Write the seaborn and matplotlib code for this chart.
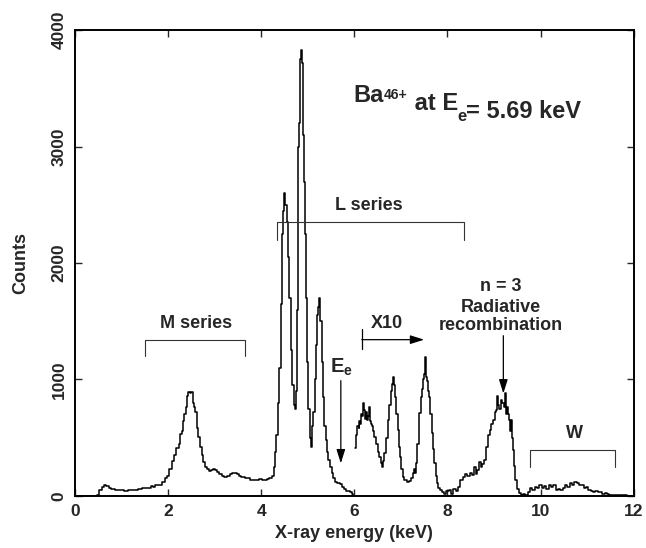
import numpy as np
import pandas as pd
import matplotlib
matplotlib.use('Agg')
import matplotlib.pyplot as plt
import seaborn as sns

# main spectrum (full scale)
energy_main = [0.0, 0.45, 0.5, 0.55, 0.6, 0.65, 0.7, 0.75, 0.8, 0.9, 1.0, 1.1, 1.2, 1.3, 1.4, 1.5,
               1.6, 1.65, 1.7, 1.75, 1.8, 1.85, 1.9, 1.95, 2.0, 2.05, 2.1, 2.15, 2.2, 2.25, 2.28, 2.3,
               2.33, 2.36, 2.39, 2.42, 2.45, 2.48, 2.51, 2.54, 2.57, 2.6, 2.63, 2.66, 2.7, 2.74, 2.78,
               2.82, 2.86, 2.9, 2.95, 3.0, 3.03, 3.07, 3.12, 3.18, 3.24, 3.3, 3.35, 3.4, 3.45, 3.5,
               3.55, 3.6, 3.7, 3.8, 3.9, 4.0, 4.05, 4.1, 4.15, 4.2, 4.25, 4.28, 4.31, 4.34, 4.37, 4.4,
               4.43, 4.46, 4.49, 4.51, 4.53, 4.56, 4.59, 4.62, 4.65, 4.68, 4.71, 4.73, 4.75, 4.77,
               4.79, 4.81, 4.83, 4.85, 4.87, 4.89, 4.91, 4.93, 4.95, 4.97, 5.0, 5.03, 5.06, 5.09,
               5.11, 5.13, 5.16, 5.19, 5.21, 5.24, 5.26, 5.28, 5.31, 5.34, 5.37, 5.4, 5.43, 5.46,
               5.5, 5.53, 5.56, 5.6, 5.64, 5.68, 5.72, 5.76, 5.8, 5.84, 5.88, 5.92, 5.96, 6.0]
counts_main = [0, 0, 10, 50, 80, 94, 85, 72, 62, 55, 48, 45, 47, 52, 58, 65,
               72, 85, 78, 90, 98, 95, 120, 150, 175, 230, 300, 350, 410, 450, 530, 555,
               640, 700, 760, 860, 890, 880, 890, 800, 760, 720, 580, 510, 420, 350, 290,
               250, 230, 215, 220, 235, 225, 205, 190, 175, 165, 175, 185, 195, 200, 190,
               175, 165, 150, 140, 135, 145, 135, 140, 145, 150, 175, 250, 380, 520, 800, 1100,
               1650, 2250, 2450, 2600, 2500, 2350, 2050, 1700, 1250, 950, 780, 750, 900, 1600,
               2250, 3000, 3200, 3750, 3830, 3720, 3100, 2700, 2250, 1700, 1150, 750, 500, 420,
               600, 720, 1000, 1300, 1550, 1620, 1700, 1500, 1150, 850, 600, 480, 380, 310,
               250, 200, 150, 120, 115, 110, 100, 80, 60, 45, 40, 30, 15, 0]

# high-energy part, multiplied by 10
energy_x10 = [6.02, 6.05, 6.08, 6.1, 6.12, 6.14, 6.16, 6.18, 6.2, 6.22, 6.24, 6.26, 6.28, 6.3,
              6.32, 6.34, 6.36, 6.38, 6.41, 6.44, 6.48, 6.52, 6.55, 6.58, 6.6, 6.63, 6.66, 6.7,
              6.73, 6.76, 6.8, 6.83, 6.85, 6.87, 6.89, 6.92, 6.94, 6.97, 6.99, 7.02, 7.05, 7.1,
              7.15, 7.2, 7.25, 7.27, 7.29, 7.31, 7.34, 7.37, 7.41, 7.44, 7.46, 7.49, 7.51, 7.53,
              7.55, 7.57, 7.6, 7.62, 7.65, 7.68, 7.71, 7.73, 7.76, 7.78, 7.82, 7.85, 7.9, 7.95,
              8.0, 8.05, 8.1, 8.15, 8.2, 8.25, 8.3, 8.35, 8.4, 8.45, 8.5, 8.55, 8.6, 8.63, 8.66,
              8.7, 8.73, 8.77, 8.81, 8.85, 8.89, 8.92, 8.96, 9.0, 9.03, 9.05, 9.07, 9.1, 9.13,
              9.16, 9.19, 9.22, 9.24, 9.26, 9.28, 9.31, 9.33, 9.35, 9.37, 9.39, 9.41, 9.44, 9.48,
              9.52, 9.55, 9.6, 9.65, 9.7, 9.75, 9.8, 9.85, 9.9, 9.95, 10.0, 10.05, 10.1, 10.15,
              10.2, 10.25, 10.3, 10.35, 10.4, 10.45, 10.5, 10.55, 10.6, 10.65, 10.7, 10.75, 10.8,
              10.85, 10.9, 10.95, 11.0, 11.05, 11.1, 11.15, 11.2, 11.25, 11.3, 11.35, 11.4, 11.45,
              11.5, 11.6, 11.7, 11.8, 11.9, 12.0]
counts_x10 = [410, 520, 600, 580, 640, 620, 700, 690, 795, 740, 660, 720, 650, 690,
              760, 640, 620, 600, 560, 510, 450, 380, 335, 280, 250, 300, 365, 500,
              650, 780, 905, 960, 1020, 950, 850, 700, 565, 420, 335, 230, 165, 140,
              120, 130, 150, 195, 230, 200, 280, 450, 710, 850, 920, 1000, 1050, 1190,
              1020, 990, 900, 850, 700, 540, 400, 280, 170, 110, 70, 50, 30, 20,
              40, 50, 20, 60, 40, 80, 137, 160, 190, 170, 200, 180, 250, 190, 220,
              290, 250, 270, 310, 420, 520, 565, 620, 650, 720, 735, 860, 780, 750,
              820, 795, 760, 880, 700, 760, 700, 650, 560, 650, 500, 395, 260, 137,
              60, 25, 10, 15, 10, 30, 70, 55, 80, 65, 95, 70, 85, 60,
              90, 75, 95, 55, 60, 50, 70, 90, 80, 110, 95, 120, 115,
              95, 90, 70, 75, 50, 45, 35, 40, 30, 35, 20, 25, 15,
              10, 10, 5, 5, 0, 0]

sns.set_theme(style="ticks")
plt.rcParams['font.family'] = ['Liberation Sans', 'DejaVu Sans']
plt.rcParams['mathtext.fontset'] = 'custom'
plt.rcParams['mathtext.rm'] = 'Liberation Sans:bold'
plt.rcParams['mathtext.it'] = 'Liberation Sans:bold'
plt.rcParams['mathtext.bf'] = 'Liberation Sans:bold'

fig = plt.figure(figsize=(6.46, 5.48), dpi=100)
ax = fig.add_axes([0.116, 0.095, 0.865, 0.850])

df_main = pd.DataFrame({'E': energy_main, 'C': counts_main})
df_x10 = pd.DataFrame({'E': energy_x10, 'C': counts_x10})
sns.lineplot(data=df_main, x='E', y='C', ax=ax, color='black', lw=1.1, drawstyle='steps-mid', sort=False)
sns.lineplot(data=df_x10, x='E', y='C', ax=ax, color='black', lw=1.1, drawstyle='steps-mid', sort=False)

ax.set_xlim(0, 12)
ax.set_ylim(0, 4000)
ax.set_xticks(np.arange(0, 13, 2))
ax.set_yticks(np.arange(0, 4001, 1000))
ax.set_yticklabels([str(v) for v in range(0, 4001, 1000)], rotation=90, va='center')
ax.tick_params(direction='in', length=5, width=1, top=True, right=True, labelsize=12.5, pad=6)
for lab in ax.get_xticklabels() + ax.get_yticklabels():
    lab.set_fontweight('bold')
for s in ax.spines.values():
    s.set_linewidth(1.4); s.set_color('black')

ax.set_xlabel('X-ray energy (keV)', fontsize=13, fontweight='bold', labelpad=4)
ax.set_ylabel('Counts', fontsize=13, fontweight='bold', labelpad=16)

# brackets
bc = '#333333'
def bracket(x0, x1, y, drop):
    ax.plot([x0, x0, x1, x1], [y - drop, y, y, y - drop], color=bc, lw=0.8)
bracket(4.34, 8.36, 2350, 150)
bracket(1.5, 3.65, 1340, 140)
bracket(9.78, 11.6, 393, 145)

ax.text(6.31, 2420, 'L series', ha='center', va='bottom', fontsize=13, fontweight='bold')
ax.text(2.6, 1410, 'M series', ha='center', va='bottom', fontsize=13, fontweight='bold')
ax.text(10.72, 460, 'W', ha='center', va='bottom', fontsize=13, fontweight='bold')
ax.text(6.7, 1410, 'X10', ha='center', va='bottom', fontsize=13, fontweight='bold')
ax.plot([6.16, 6.16], [1265, 1430], color='black', lw=0.9)

arrow = dict(arrowstyle='-|>,head_length=0.7,head_width=0.22', color='black', lw=0.9, shrinkA=0, shrinkB=0)
ax.annotate('', xy=(7.5, 1342), xytext=(6.16, 1342), arrowprops=arrow)
ax.annotate('', xy=(5.71, 280), xytext=(5.71, 990), arrowprops=arrow)
ax.annotate('', xy=(9.2, 880), xytext=(9.2, 1376), arrowprops=arrow)

ax.text(5.72, 1100, 'E$_{e}$', ha='center', va='center', fontsize=14.5, fontweight='bold')
ax.text(9.15, 1800, 'n = 3', ha='center', va='center', fontsize=13, fontweight='bold')
ax.text(9.15, 1615, 'Radiative', ha='center', va='center', fontsize=13, fontweight='bold')
ax.text(9.15, 1460, 'recombination', ha='center', va='center', fontsize=13, fontweight='bold')

# title built from pieces so the superscript stays small
t1 = ax.text(5.98, 3380, 'Ba', ha='left', va='baseline', fontsize=17, fontweight='bold')
t2 = ax.annotate('46+', xy=(1, 0), xycoords=t1, xytext=(0, 6), textcoords='offset points',
                 ha='left', va='baseline', fontsize=10, fontweight='bold')
t3 = ax.annotate(' at E', xy=(1, 0), xycoords=t2, xytext=(0, -6), textcoords='offset points',
                 ha='left', va='baseline', fontsize=17, fontweight='bold')
t4 = ax.annotate('e', xy=(1, 0), xycoords=t3, xytext=(-0.5, -4), textcoords='offset points',
                 ha='left', va='baseline', fontsize=12, fontweight='bold')
ax.annotate('= 5.69 keV', xy=(1, 0), xycoords=t4, xytext=(0, 4), textcoords='offset points',
            ha='left', va='baseline', fontsize=17, fontweight='bold')

fig.savefig('out.png', dpi=100)
